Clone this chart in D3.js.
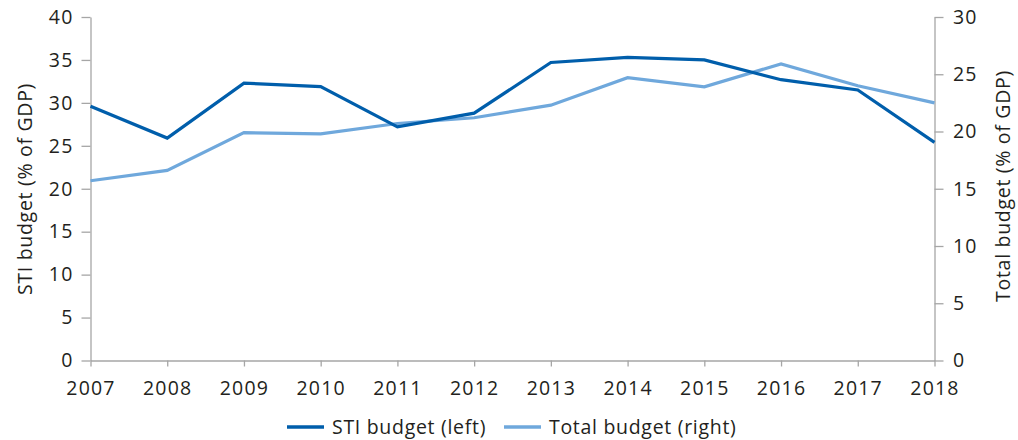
<!DOCTYPE html>
<html>
<head>
<meta charset="utf-8">
<script src="https://cdn.jsdelivr.net/npm/d3@7"></script>
<style>
  body { margin: 0; background: #fff; }
  svg text { font-family: "Open Sans", sans-serif; fill: #231f20; }
  .axis path, .axis line { stroke: #a6a6a6; stroke-width: 1.3; }
</style>
</head>
<body>
<svg id="chart" width="1018" height="440"></svg>
<script>
var years = [2007, 2008, 2009, 2010, 2011, 2012, 2013, 2014, 2015, 2016, 2017, 2018];
var stiBudget = [29.6, 25.9, 32.3, 31.9, 27.2, 28.8, 34.7, 35.3, 35.0, 32.7, 31.5, 25.4];
var totalBudget = [15.7, 16.6, 19.9, 19.8, 20.7, 21.2, 22.3, 24.7, 23.9, 25.9, 24.0, 22.5];
var leftTicks = [0, 5, 10, 15, 20, 25, 30, 35, 40];
var rightTicks = [0, 5, 10, 15, 20, 25, 30];

var svg = d3.select('#chart');
var pLeft = 90.5, pRight = 934.5, pTop = 17, pBottom = 360.5;
var fs = 19.5;

var x = d3.scaleLinear().domain([2007, 2018]).range([pLeft, pRight]);
var yL = d3.scaleLinear().domain([0, 40]).range([pBottom, pTop]);
var yR = d3.scaleLinear().domain([0, 30]).range([pBottom, pTop]);

// axes
var gx = svg.append('g').attr('class', 'axis')
	.attr('transform', 'translate(0,' + pBottom + ')')
	.call(d3.axisBottom(x).tickValues(years).tickFormat(d3.format('d')).tickSize(6).tickSizeOuter(0));
gx.selectAll('text').attr('font-size', fs).attr('y', 34).attr('dy', 0)
	.attr('letter-spacing', 1.2);

var gl = svg.append('g').attr('class', 'axis')
	.attr('transform', 'translate(' + pLeft + ',0)')
	.call(d3.axisLeft(yL).tickValues(leftTicks).tickSize(9).tickSizeOuter(0));
gl.selectAll('text').attr('font-size', fs).attr('x', -17).attr('letter-spacing', 1.2);

var gr = svg.append('g').attr('class', 'axis')
	.attr('transform', 'translate(' + pRight + ',0)')
	.call(d3.axisRight(yR).tickValues(rightTicks).tickSize(9).tickSizeOuter(0));
gr.selectAll('text').attr('font-size', fs).attr('x', 18.5).attr('letter-spacing', 1.2);

// axis titles
svg.append('text')
	.attr('transform', 'translate(32,' + 189 + ') rotate(-90)')
	.attr('text-anchor', 'middle')
	.attr('font-size', fs)
	.attr('letter-spacing', 0.7)
	.text('STI budget (% of GDP)');

svg.append('text')
	.attr('transform', 'translate(1010,' + 186 + ') rotate(-90)')
	.attr('text-anchor', 'middle')
	.attr('font-size', fs)
	.attr('letter-spacing', 0.7)
	.text('Total budget (% of GDP)');

// lines
var lineL = d3.line().x(function(d, i){ return x(years[i]); }).y(function(d){ return yL(d); });
var lineR = d3.line().x(function(d, i){ return x(years[i]); }).y(function(d){ return yR(d); });

svg.append('path').datum(totalBudget)
	.attr('d', lineR)
	.attr('fill', 'none')
	.attr('stroke', '#6fa8dc')
	.attr('stroke-width', 3.2);

svg.append('path').datum(stiBudget)
	.attr('d', lineL)
	.attr('fill', 'none')
	.attr('stroke', '#005eab')
	.attr('stroke-width', 3.2);

// legend
var legend = [
	{label: 'STI budget (left)', color: '#005eab', x: 287},
	{label: 'Total budget (right)', color: '#6fa8dc', x: 504}
];
var lg = svg.selectAll('.leg').data(legend).enter().append('g')
	.attr('transform', function(d){ return 'translate(' + d.x + ',427)'; });
lg.append('line').attr('x1', 0).attr('x2', 37).attr('y1', 0).attr('y2', 0)
	.attr('stroke', function(d){ return d.color; })
	.attr('stroke-width', 3.5);
lg.append('text').attr('x', 45).attr('y', 7)
	.attr('font-size', fs)
	.attr('letter-spacing', 0.7)
	.text(function(d){ return d.label; });
</script>
</body>
</html>
